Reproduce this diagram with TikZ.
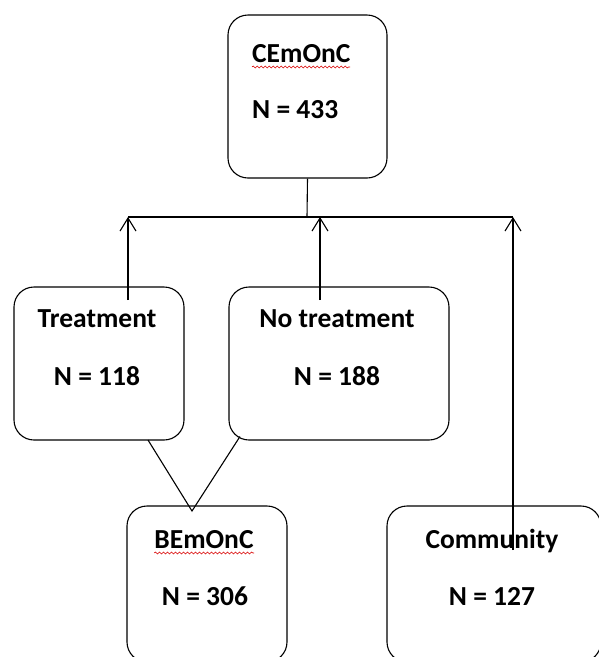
\documentclass[tikz,border=0pt]{standalone}
\usepackage{fontspec}
\setmainfont{Carlito}
\usetikzlibrary{arrows.meta,decorations.pathmorphing}
\begin{document}
\begin{tikzpicture}[x=1pt,y=-1pt,
  box/.style={draw, line width=1.1pt, rounded corners=20pt, rectangle, inner sep=0pt},
  lbl/.style={font=\fontsize{27.5}{32}\selectfont\bfseries, inner sep=0pt, anchor=base},
  conn/.style={line width=1.1pt},
  arr/.style={conn, -{Straight Barb[length=13pt,width=16pt,line width=1.1pt]}},
  squig/.style={red!85!black, line width=0.6pt, decorate, decoration={snake, amplitude=1pt, segment length=4pt}}]
\clip (0,0) rectangle (599,657);
\fill[white] (0,0) rectangle (599,657);
% boxes
\node[box, minimum width=159pt, minimum height=163pt] (cemonc) at (307.5,96.5) {};
\node[box, minimum width=170pt, minimum height=153pt] (treat) at (99,363.5) {};
\node[box, minimum width=220pt, minimum height=153pt] (notreat) at (339,363.5) {};
\node[box, minimum width=160pt, minimum height=156pt] (bemonc) at (207,584) {};
\node[box, minimum width=214pt, minimum height=156pt] (comm) at (494,584) {};
% texts
\node[lbl, anchor=base west] (t1) at (252,62) {CEmOnC};
\node[lbl, anchor=base west] (t2) at (252,118) {N = 433};
\node[lbl] (t3) at (97,327) {Treatment};
\node[lbl] (t4) at (97,385) {N = 118};
\node[lbl] (t5) at (337,327) {No treatment};
\node[lbl] (t6) at (337,385) {N = 188};
\node[lbl] (t7) at (204,548) {BEmOnC};
\node[lbl] (t8) at (205,605) {N = 306};
\node[lbl] (t9) at (492,548) {Community};
\node[lbl] (t10) at (492,605) {N = 127};
% spell-check squiggles
\draw[squig] (t1.base west) ++(0,5) -- ++(98,0);
\draw[squig] (t7.base west) ++(0,5) -- ++(100,0);
% connectors
\coordinate (busL) at (128,217);
\coordinate (busM) at (320,217);
\coordinate (busR) at (513,217);
\coordinate (stem) at (307,217);
\coordinate (tA) at (128,300);
\coordinate (nA) at (320,300);
\coordinate (cA) at (513,550);
\coordinate (apex) at (192,511);
\coordinate (tB) at (148,440);
\coordinate (nB) at (240,436.5);
\draw[conn] (cemonc.south) -- (stem);
\draw[conn] (busL) -- (busR);
\draw[arr] (tA) -- (busL);
\draw[arr] (nA) -- (busM);
\draw[arr] (cA) -- (busR);
\draw[conn] (tB) -- (apex) -- (nB);
\end{tikzpicture}
\end{document}
